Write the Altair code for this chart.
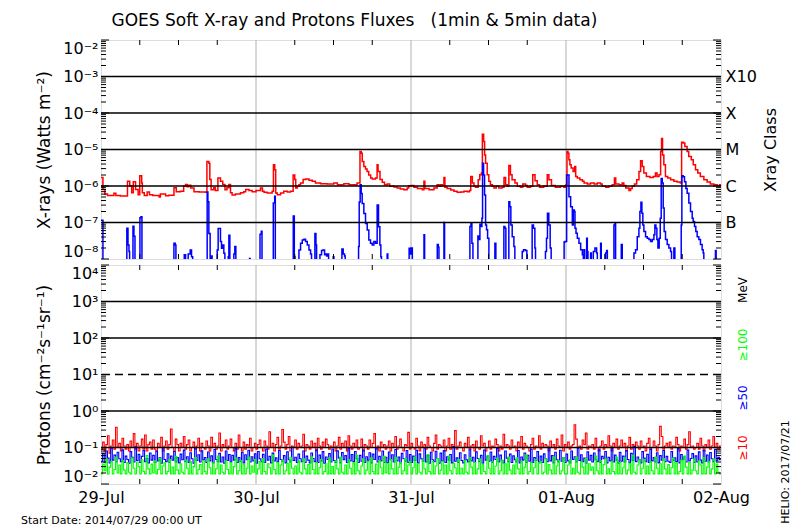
import altair as alt
import pandas as pd

# ---------------- text ----------------
NB = "\u00a0"
TITLE = "GOES Soft X-ray and Protons Fluxes" + NB * 3 + "(1min & 5min data)"
START_NOTE = "Start Date: 2014/07/29 00:00 UT"
HELIO_NOTE = "HELIO: 2017/07/21"
XRAY_TITLE = "X-rays (Watts m⁻²)"
PROTON_TITLE = "Protons (cm⁻²s⁻¹sr⁻¹)"

day_labels = ["29-Jul", "30-Jul", "31-Jul", "01-Aug", "02-Aug"]
day_hours = [0, 24, 48, 72, 96]
xray_class_labels = ["B", "C", "M", "X", "X10"]
xray_class_levels = [1e-7, 1e-6, 1e-5, 1e-4, 1e-3]
proton_grid_solid = [1e3, 1e2, 1e0, 1e-1]
proton_grid_dashed = [1e1]
energy_labels = ["MeV", "≥100", "≥50", "≥10"]
energy_colors = ["black", "#00ff00", "#0000ff", "#ff0000"]

# ---------------- GOES X-ray long channel (1-8 A), hours since 2014-07-29 00:00 ----------------
xray_long_hours = [
    0.0, 0.3, 0.6, 1.0, 2.0, 2.3, 3.0, 4.0, 4.1, 4.45, 4.75, 5.0, 5.35, 5.75, 6.0, 6.3, 6.4, 6.7,
    7.15, 7.5, 8.0, 9.0, 9.2, 10.0, 10.5, 11.3, 11.65, 12.3, 12.8, 13.1, 13.35, 13.6, 13.9, 14.4,
    15.2, 16.2, 16.4, 16.7, 16.85, 17.05, 17.45, 17.7, 18.1, 18.5, 18.85, 19.2, 19.5, 19.8, 20.05,
    20.3, 20.8, 21.6, 22.1, 22.4, 22.9, 23.4,
    24.0, 24.7, 25.0, 25.25, 25.75, 26.5, 26.7, 26.9, 27.05, 27.3, 27.8, 28.3, 28.85, 29.35, 29.75,
    30.0, 30.15, 30.4, 30.65, 30.9, 31.3, 31.7, 32.2, 32.7, 33.2, 34.0, 35.0, 36.05, 36.6, 37.1,
    37.6, 38.4, 39.15, 39.65, 40.1, 40.3, 40.45, 40.7, 40.95, 41.2, 41.45, 41.75, 42.0, 42.5, 42.75,
    42.9, 43.2, 43.55, 43.9, 44.3, 44.7, 45.35, 45.85, 46.35, 46.9, 47.4, 47.65,
    48.0, 48.45, 49.0, 49.75, 50.0, 50.15, 50.8, 51.55, 52.05, 52.35, 52.6, 52.85, 53.1, 53.25,
    53.6, 54.15, 54.65, 55.15, 55.7, 56.2, 56.7, 57.05, 57.25, 57.5, 57.75, 58.0, 58.4, 58.65,
    58.9, 59.05, 59.25, 59.4, 59.55, 59.8, 60.05, 60.3, 60.6, 60.85, 61.2, 61.6, 62.1, 62.4, 62.65,
    62.9, 63.15, 63.4, 63.65, 64.1, 64.45, 64.95, 65.3, 65.75, 66.0, 66.5, 66.85, 67.2, 67.55, 67.9,
    68.55, 69.1, 69.35, 69.75, 70.35, 71.15, 71.65, 71.9,
    72.0, 72.15, 72.3, 72.45, 72.6, 72.8, 73.1, 73.35, 73.5, 73.75, 74.15, 74.55, 74.8, 75.3, 75.8,
    76.35, 76.85, 77.35, 77.6, 78.15, 78.65, 79.15, 79.5, 79.7, 80.2, 80.7, 80.95, 81.25, 81.75,
    82.0, 82.25, 82.6, 82.95, 83.3, 83.55, 83.8, 84.05, 84.45, 85.0, 85.5, 85.85, 86.1, 86.4, 86.65,
    86.8, 86.95, 87.15, 87.4, 87.75, 88.2, 88.7, 89.2, 89.7, 89.9, 90.15, 90.4, 90.75, 91.0, 91.4,
    91.7, 92.05, 92.4, 92.8, 93.35, 93.85, 94.35, 94.9, 95.4, 95.8, 96.0,
]
xray_long_flux = [
    1.7e-6, 8.0e-7, 6.0e-7, 5.5e-7, 6.3e-7, 5.5e-7, 5.3e-7, 5.3e-7, 1.35e-6, 1.0e-6, 6.5e-7, 1.3e-6, 8.0e-7, 5.8e-7, 1.9e-6, 1.2e-6, 6.5e-7, 5.5e-7,
    6.9e-7, 5.8e-7, 5.5e-7, 5.0e-7, 6.0e-7, 5.4e-7, 5.6e-7, 9.0e-7, 7.0e-7, 7.2e-7, 1.0e-6, 1.1e-6, 9.5e-7, 1.05e-6, 8.8e-7, 7.0e-7,
    6.9e-7, 6.7e-7, 4.7e-6, 4.2e-6, 1.5e-6, 7.9e-7, 8.9e-7, 7.5e-7, 1.65e-6, 1.35e-6, 1.1e-6, 7.9e-7, 9.0e-7, 1.1e-6, 6.5e-7,
    5.7e-7, 6.0e-7, 6.5e-7, 7.0e-7, 8.0e-7, 7.5e-7, 7.0e-7,
    7.5e-7, 8.8e-7, 7.2e-7, 6.7e-7, 6.4e-7, 7.2e-7, 3.8e-6, 2.8e-6, 6.4e-7, 5.8e-7, 6.4e-7, 7.2e-7, 6.9e-7, 7.2e-7, 2.0e-6,
    1.5e-6, 8.8e-7, 9.8e-7, 1.09e-6, 1.2e-6, 1.5e-6, 1.55e-6, 1.43e-6, 1.34e-6, 1.2e-6, 1.16e-6, 1.13e-6, 1.2e-6, 1.09e-6, 1.09e-6,
    1.16e-6, 1.09e-6, 1.09e-6, 1.2e-6, 8.8e-6, 7.9e-6, 4.7e-6, 3.4e-6, 2.9e-6, 2.5e-6, 2.0e-6, 1.65e-6, 1.55e-6, 1.65e-6, 3.8e-6,
    2.5e-6, 1.5e-6, 1.26e-6, 1.09e-6, 1.13e-6, 9.8e-7, 9.4e-7, 8.8e-7, 8.3e-7, 7.9e-7, 8.8e-7, 1.02e-6,
    1.04e-6, 9.2e-7, 8.5e-7, 7.9e-7, 1.34e-6, 8.5e-7, 7.9e-7, 8.8e-7, 1.09e-6, 9.8e-7, 1.09e-6, 1.02e-6, 1.72e-6, 9.2e-7,
    8.5e-7, 7.8e-7, 7.15e-7, 6.7e-7, 6.85e-7, 7.15e-7, 7.0e-7, 7.5e-7, 1.83e-6, 1.2e-6, 9.8e-7, 9.2e-7, 1.49e-6, 2.04e-6,
    2.26e-6, 2.6e-5, 1.65e-5, 7.1e-6, 4.2e-6, 2.04e-6, 1.34e-6, 1.09e-6, 9.8e-7, 8.8e-7, 9.8e-7, 8.8e-7, 9.2e-7, 1.72e-6, 1.09e-6,
    9.8e-7, 3.66e-6, 2.04e-6, 1.49e-6, 1.2e-6, 9.8e-7, 9.2e-7, 1.13e-6, 1.04e-6, 9.2e-7, 9.8e-7, 2.04e-6, 1.4e-6, 1.09e-6, 9.2e-7,
    9.8e-7, 2.04e-6, 1.49e-6, 1.04e-6, 9.2e-7, 9.8e-7, 9.2e-7, 1.0e-6,
    1.09e-6, 8.8e-6, 7.9e-6, 5.2e-6, 3.8e-6, 3.1e-6, 2.5e-6, 3.4e-6, 1.83e-6, 1.65e-6, 1.49e-6, 1.34e-6, 1.2e-6, 1.13e-6, 1.2e-6,
    1.13e-6, 1.2e-6, 1.13e-6, 9.8e-7, 9.2e-7, 9.8e-7, 1.09e-6, 1.65e-6, 1.13e-6, 1.09e-6, 1.2e-6, 1.04e-6, 8.8e-7, 7.5e-7,
    8.5e-7, 9.8e-7, 1.13e-6, 1.49e-6, 2.5e-6, 4.9e-6, 3.4e-6, 2.26e-6, 1.83e-6, 1.72e-6, 1.83e-6, 2.26e-6, 1.83e-6, 2.04e-6, 8.8e-6,
    2.0e-5, 7.1e-6, 3.8e-6, 1.83e-6, 1.65e-6, 1.49e-6, 1.34e-6, 1.29e-6, 1.2e-6, 1.58e-5, 1.5e-5, 1.2e-5, 8.8e-6, 6.45e-6, 5.2e-6,
    3.8e-6, 2.8e-6, 2.26e-6, 1.83e-6, 1.49e-6, 1.29e-6, 1.13e-6, 1.09e-6, 1.04e-6, 1.09e-6, 1.09e-6,
]

# ---------------- GOES X-ray short channel (0.5-4 A); 1e-9 = below the plotted floor ----------------
xray_short_hours = [
    0.0, 0.3, 4.0, 4.18, 4.33, 4.43, 4.95, 5.1, 5.26, 6.03, 6.19, 6.34, 11.29, 11.5, 11.6, 12.89, 13.1,
    13.5, 13.81, 14.02, 14.2, 16.44, 16.55, 16.7, 16.9, 17.06, 17.2, 17.99, 18.14, 18.35, 18.5, 18.66,
    18.81, 19.02, 19.18, 19.7, 19.8, 19.95, 20.57, 20.72, 20.88, 23.0, 23.1,
    24.62, 24.82, 24.93, 26.68, 26.89, 26.99, 29.77, 29.93, 30.03, 30.65, 30.9, 31.16, 31.42, 31.68,
    31.94, 32.2, 32.45, 32.6, 33.12, 33.28, 33.38, 33.9, 34.15, 34.36, 34.62, 34.77, 34.93, 35.13,
    35.24, 35.96, 36.06, 37.3, 37.5, 37.71, 37.81, 39.88, 39.98, 40.13, 40.29, 40.44, 40.7, 40.96,
    41.22, 41.47, 41.73, 41.99, 42.25, 42.5, 42.76, 42.97, 43.18, 43.33, 43.43, 44.31, 44.41, 47.71, 47.92,
    48.0, 48.21, 50.01, 50.11, 52.07, 52.23, 52.33, 53.1, 53.2, 57.12, 57.28, 57.43, 57.59, 58.36,
    58.52, 58.67, 58.82, 58.98, 59.08, 59.24, 59.39, 59.55, 59.7, 59.86, 60.06, 60.99, 61.14, 62.38,
    62.54, 62.69, 63.15, 63.3, 63.46, 63.67, 63.93, 64.08, 65.22, 65.42, 65.73, 65.94, 66.76, 66.97,
    67.18, 67.28, 68.82, 68.98, 69.13, 69.34, 69.55, 69.7, 71.71, 71.85,
    72.1, 72.46, 72.72, 72.98, 73.13, 73.29, 73.39, 73.55, 73.75, 74.01, 74.27, 74.53, 74.68, 74.78,
    74.89, 75.2, 75.3, 75.4, 75.81, 75.92, 76.23, 76.48, 76.74, 76.85, 77.36, 77.46, 78.13, 78.29,
    78.4, 79.42, 79.58, 79.68, 80.56, 80.71, 82.52, 82.77, 83.03, 83.29, 83.44, 83.6, 83.75, 83.9,
    84.06, 84.32, 84.58, 84.84, 85.09, 85.35, 85.61, 85.76, 85.92, 86.07, 86.23, 86.43, 86.59, 86.74,
    86.9, 87.05, 87.2, 87.41, 87.67, 87.93, 88.19, 88.34, 88.7, 88.86, 89.84, 89.94, 90.14, 90.35,
    90.56, 90.76, 91.02, 91.28, 91.54, 91.69, 91.9, 92.1, 92.31, 92.57, 92.82, 93.08, 93.24, 93.34,
    95.14, 95.25, 96.0,
]
F = 1e-9
xray_short_flux = [
    1.16e-7, F, 7.0e-8, 2.4e-8, 1.6e-8, F, 7.9e-8, 4.2e-8, F, 1.34e-7, 1.43e-7, F, 2.7e-8, 2.4e-8, F, 1.3e-8, F,
    1.37e-8, 1.76e-8, 1.16e-8, F, 6.9e-7, 3.7e-7, 5.0e-8, F, 1.2e-8, F, 1.76e-8, 6.9e-8, 6.9e-8, 3.0e-8, 1.96e-8,
    2.4e-8, 1.43e-8, F, 1.16e-8, 4.5e-8, F, 1.37e-8, 2.2e-8, F, 1.04e-8, F,
    4.8e-8, 5.8e-8, F, 3.4e-7, 5.2e-7, F, 1.5e-7, 1.16e-8, F, 1.76e-8, 2.7e-8, 3.3e-8, 3.5e-8, 3.0e-8,
    2.4e-8, 1.76e-8, 1.37e-8, F, 5.0e-8, 2.4e-8, F, 1.3e-8, 1.7e-8, 1.76e-8, 1.3e-8, 1.37e-8, 1.2e-8, 1.37e-8,
    F, 1.16e-8, F, 1.87e-8, 1.37e-8, 1.2e-8, F, 2.2e-8, 3.66e-7, 1.09e-6, 6.2e-7, 3.3e-7, 1.76e-7, 9.4e-8,
    6.2e-8, 3.3e-8, 2.7e-8, 2.4e-8, 3.0e-8, 2.7e-8, 3.0e-7, 7.6e-8, 2.4e-8, 1.16e-8, F, 1.37e-8, F, 1.96e-8, 1.37e-8,
    2.0e-8, F, 4.6e-8, F, 2.5e-8, 2.1e-8, F, 1.0e-7, F, 7.8e-8, 9.6e-8, 2.7e-8, F, 4.3e-8,
    3.4e-8, 9.0e-8, 7.8e-8, 1.3e-7, 4.2e-6, 2.0e-6, 5.7e-7, 8.6e-8, 6.3e-8, 3.7e-8, F, 2.7e-8, F, 7.8e-8,
    7.0e-8, F, 3.7e-7, 2.7e-7, 8.6e-8, 4.1e-8, 2.2e-8, F, 1.6e-8, 1.8e-8, 1.7e-8, F, 8.6e-8, 7.0e-8,
    2.0e-8, F, 1.6e-8, 3.7e-8, 1.8e-7, 8.6e-8, 2.0e-8, F, 2.9e-8, 3.0e-8,
    2.0e-6, 5.1e-7, 2.7e-7, 8.6e-8, 2.2e-7, 2.0e-7, 7.0e-8, 5.1e-8, 3.7e-8, 2.7e-8, 1.8e-8, 1.3e-8, F, 1.8e-8,
    F, 3.7e-8, 1.6e-8, F, 1.45e-8, F, 1.6e-8, 2.0e-8, 1.45e-8, F, 2.7e-8, F, 1.45e-8, 1.7e-8,
    F, 8.6e-8, 9.6e-8, F, 2.5e-8, F, 1.45e-8, 1.8e-8, 4.1e-8, 7.0e-8, 2.0e-7, 3.6e-7, 1.8e-7, 8.6e-8,
    5.7e-8, 4.1e-8, 3.7e-8, 3.4e-8, 3.0e-8, 3.4e-8, 4.6e-8, 8.6e-8, 7.0e-8, 3.4e-8, 2.0e-8, 3.7e-8, 1.3e-7, 1.6e-6,
    1.2e-6, 2.5e-7, 5.7e-8, 3.4e-8, 2.5e-8, 2.0e-8, 1.6e-8, F, 2.0e-8, F, 8.6e-8, 1.9e-6, 1.8e-6, 1.3e-6,
    8.6e-7, 6.3e-7, 3.4e-7, 2.0e-7, 1.3e-7, 1.07e-7, 7.8e-8, 5.7e-8, 4.1e-8, 3.4e-8, 2.5e-8, 1.8e-8, 1.45e-8, F,
    1.7e-8, F, F,
]

# ---------------- GOES protons, 15-min samples over the 4 days ----------------
# >=10 MeV, in units of 0.01 pfu
proton_p10_centi = [
    9, 14, 8, 12, 21, 7, 11, 16, 9, 36, 10, 13, 8, 18, 11, 9,
    12, 8, 15, 10, 24, 9, 13, 8, 11, 17, 9, 22, 8, 12, 14, 9,
    16, 9, 8, 13, 10, 19, 8, 11, 15, 9, 12, 32, 10, 8, 17, 12,
    8, 13, 10, 20, 9, 12, 16, 8, 10, 14, 9, 11, 18, 8, 13, 10,
    9, 15, 11, 8, 19, 10, 13, 9, 11, 25, 8, 12, 10, 16, 9, 11,
    17, 10, 8, 13, 9, 22, 10, 8, 14, 9, 12, 11, 18, 8, 10, 13,
    9, 12, 16, 10, 8, 15, 11, 9, 27, 10, 13, 8, 12, 19, 9, 11,
    31, 14, 9, 12, 20, 8, 11, 10, 16, 9, 13, 10, 11, 23, 8, 12,
    11, 9, 15, 10, 13, 8, 18, 11, 9, 14, 10, 17, 12, 9, 11, 10,
    14, 8, 11, 19, 9, 13, 10, 15, 8, 21, 11, 9, 13, 10, 16, 9,
    10, 17, 8, 12, 11, 9, 16, 10, 13, 24, 9, 11, 8, 14, 10, 12,
    9, 11, 15, 8, 13, 10, 20, 9, 11, 17, 10, 8, 12, 11, 26, 9,
    13, 10, 9, 18, 11, 8, 14, 10, 12, 9, 19, 11, 10, 8, 13, 22,
    9, 12, 11, 10, 16, 8, 11, 18, 9, 12, 10, 29, 9, 11, 14, 10,
    8, 13, 10, 19, 9, 11, 12, 8, 15, 10, 9, 21, 11, 13, 8, 10,
    15, 9, 11, 10, 17, 12, 8, 11, 9, 23, 10, 12, 11, 9, 16, 10,
    11, 8, 14, 10, 20, 9, 13, 11, 10, 8, 12, 18, 9, 11, 10, 21,
    9, 13, 10, 12, 11, 8, 15, 10, 12, 9, 17, 11, 10, 22, 8, 12,
    10, 14, 9, 11, 12, 42, 17, 10, 11, 9, 16, 12, 25, 9, 11, 10,
    12, 9, 18, 10, 8, 11, 15, 9, 12, 10, 21, 11, 8, 13, 10, 17,
    9, 11, 16, 10, 13, 8, 11, 19, 9, 12, 10, 14, 11, 9, 15, 10,
    11, 8, 13, 18, 9, 10, 15, 11, 8, 12, 38, 20, 9, 11, 13, 10,
    14, 9, 11, 10, 19, 12, 8, 11, 10, 17, 9, 12, 27, 10, 11, 9,
    10, 13, 9, 18, 11, 8, 12, 10, 16, 9, 11, 20, 10, 13, 9, 11,
]
# >=50 MeV, in units of 0.001 pfu
proton_p50_milli = [
    42, 68, 39, 80, 51, 38, 95, 45, 62, 40, 74, 49, 41, 86, 39, 58,
    47, 37, 77, 54, 40, 104, 44, 65, 39, 57, 83, 41, 50, 38, 71, 45,
    61, 39, 79, 43, 52, 37, 92, 47, 41, 67, 39, 58, 45, 78, 40, 53,
    38, 66, 46, 85, 41, 56, 39, 72, 49, 37, 98, 44, 63, 40, 81, 46,
    53, 39, 75, 43, 59, 38, 88, 47, 41, 69, 40, 55, 37, 80, 44, 64,
    40, 61, 45, 93, 39, 53, 42, 74, 38, 63, 46, 84, 40, 56, 43, 67,
    37, 78, 49, 41, 65, 39, 90, 45, 57, 38, 70, 43, 52, 40, 83, 47,
    42, 60, 38, 76, 46, 40, 101, 44, 54, 39, 66, 49, 41, 80, 39, 58,
    45, 38, 71, 50, 41, 86, 39, 62, 43, 77, 37, 55, 47, 68, 40, 91,
    44, 39, 81, 52, 38, 73, 46, 60, 39, 95, 43, 64, 41, 78, 49, 39,
    61, 42, 85, 39, 56, 45, 72, 38, 66, 47, 99, 40, 57, 43, 80, 39,
    54, 39, 75, 46, 63, 40, 88, 43, 55, 38, 69, 49, 42, 83, 39, 64,
    39, 58, 44, 84, 38, 67, 49, 42, 92, 40, 60, 37, 74, 46, 41, 79,
    50, 37, 70, 43, 82, 39, 56, 45, 64, 38, 106, 42, 52, 39, 72, 44,
    38, 63, 46, 40, 87, 43, 54, 39, 76, 50, 41, 61, 37, 85, 45, 56,
    42, 75, 39, 57, 47, 94, 40, 62, 44, 38, 80, 51, 41, 66, 39, 59,
    46, 40, 83, 38, 55, 45, 71, 39, 61, 42, 90, 39, 53, 44, 77, 40,
    58, 39, 67, 49, 41, 100, 43, 60, 38, 74, 46, 40, 84, 42, 52, 39,
    66, 43, 38, 80, 47, 56, 40, 95, 44, 63, 41, 51, 37, 76, 45, 61,
    40, 71, 46, 41, 86, 39, 57, 49, 78, 38, 54, 43, 92, 40, 62, 45,
    37, 74, 42, 58, 40, 82, 47, 39, 69, 44, 108, 41, 55, 46, 38, 77,
    51, 41, 65, 39, 89, 43, 53, 40, 72, 38, 60, 45, 83, 41, 57, 42,
    39, 78, 44, 52, 41, 93, 38, 64, 46, 56, 40, 85, 43, 50, 68, 39,
    59, 40, 76, 45, 38, 84, 42, 62, 40, 73, 49, 41, 89, 43, 54, 46,
]
# >=100 MeV, in units of 0.001 pfu
proton_p100_milli = [
    19, 35, 23, 48, 19, 29, 41, 19, 25, 55, 20, 33, 19, 44, 24, 19,
    38, 21, 19, 51, 27, 19, 40, 30, 19, 46, 22, 19, 60, 26, 19, 35,
    20, 43, 19, 25, 50, 19, 31, 38, 19, 22, 47, 19, 29, 19, 57, 24,
    19, 36, 21, 19, 45, 27, 19, 41, 19, 30, 53, 19, 25, 34, 19, 44,
    22, 19, 49, 28, 19, 38, 19, 26, 58, 19, 33, 21, 19, 43, 25, 19,
    39, 19, 30, 52, 19, 23, 44, 19, 35, 19, 27, 55, 19, 31, 21, 47,
    19, 26, 41, 19, 50, 22, 19, 36, 28, 19, 62, 25, 19, 39, 19, 33,
    45, 19, 23, 37, 19, 54, 27, 19, 31, 19, 43, 21, 19, 49, 26, 19,
    34, 19, 56, 25, 19, 39, 19, 28, 47, 19, 22, 36, 19, 52, 19, 30,
    19, 43, 26, 19, 55, 21, 19, 33, 19, 46, 27, 19, 38, 19, 61, 23,
    19, 31, 49, 19, 24, 41, 19, 52, 22, 19, 35, 19, 44, 28, 19, 57,
    20, 37, 19, 47, 26, 19, 54, 19, 29, 39, 19, 23, 50, 19, 33, 42,
    19, 28, 55, 19, 36, 21, 19, 46, 26, 19, 64, 22, 19, 41, 19, 31,
    50, 19, 24, 42, 19, 33, 19, 58, 23, 19, 37, 28, 19, 47, 19, 27,
    19, 44, 21, 19, 53, 29, 19, 39, 19, 26, 49, 19, 35, 22, 19, 60,
    27, 19, 41, 19, 31, 51, 19, 23, 45, 19, 36, 19, 55, 24, 19, 33,
    19, 52, 26, 19, 42, 19, 29, 63, 19, 22, 39, 19, 28, 47, 19, 37,
    41, 19, 21, 49, 19, 34, 24, 19, 56, 19, 31, 44, 19, 23, 52, 19,
    19, 33, 46, 19, 27, 19, 55, 21, 19, 41, 29, 19, 50, 19, 36, 24,
    29, 19, 58, 23, 19, 44, 19, 34, 49, 19, 26, 19, 42, 22, 19, 54,
    19, 39, 19, 28, 52, 19, 24, 37, 19, 61, 21, 19, 33, 46, 19, 27,
    47, 19, 31, 19, 41, 23, 19, 55, 27, 19, 36, 19, 50, 26, 19, 34,
    19, 28, 51, 19, 38, 19, 22, 45, 19, 58, 29, 19, 39, 19, 24, 48,
    23, 19, 43, 33, 19, 53, 19, 29, 41, 19, 26, 49, 19, 35, 21, 19,
]

# ---------------- helpers ----------------
W, H = 620, 219
FONT = "DejaVu Sans"
xsc = alt.Scale(domain=[day_hours[0], day_hours[-1]], nice=False, zero=False)
ysc_x = alt.Scale(type="log", domain=[1e-8, 1e-2], nice=False)
ysc_p = alt.Scale(type="log", domain=[1e-2, 1e4], nice=False)

SUP = "['⁰','¹','²','³','⁴','⁵','⁶','⁷','⁸','⁹']"
EXP = "round(log(datum.value)/LN10)"
DEC_EXPR = f"'10' + ({EXP} < 0 ? '⁻' : '') + {SUP}[abs({EXP})]"
CLASS_EXPR = "[" + ",".join(f"'{c}'" for c in xray_class_labels) + f"][{EXP} + 7]"
DAY_EXPR = "[" + ",".join(f"'{d}'" for d in day_labels) + "][round(datum.value/24)]"

six_hour = [h for h in range(6, 96, 6) if h % 24 != 0]


def series_df(hours, vals):
    n = min(len(hours), len(vals))
    return pd.DataFrame({"hour": hours[:n], "flux": vals[:n]})


def proton_df(vals, unit):
    step = 96.0 / len(vals)
    hours = [i * step for i in range(len(vals))] + [96.0]
    flux = [v * unit for v in vals] + [vals[-1] * unit]
    return pd.DataFrame({"hour": hours, "flux": flux})


def decade_axis(values, title):
    return alt.Axis(orient="left", values=values, labelExpr=DEC_EXPR, ticks=False, domain=False,
                    grid=False, labelFlush=True, labelOverlap=False, labelFontSize=16, labelFont=FONT,
                    labelColor="black", labelPadding=3, title=title, titleFont=FONT, titleFontSize=17,
                    titleFontWeight="normal", titleColor="black", titlePadding=9)


def line(df, color, sw, yscale, yaxis=None, xaxis=None):
    return alt.Chart(df).mark_line(color=color, strokeWidth=sw, interpolate="step-after", clip=True).encode(
        x=alt.X("hour:Q", scale=xsc, axis=xaxis),
        y=alt.Y("flux:Q", scale=yscale, axis=yaxis),
    )


def yticks(vals, yscale, length, side):
    x0, x1 = (0, length) if side == "left" else (W - length, W)
    return alt.Chart(pd.DataFrame({"v": vals})).mark_rule(color="black", strokeWidth=1).encode(
        y=alt.Y("v:Q", scale=yscale, axis=None), x=alt.value(x0), x2=alt.value(x1))


def xticks():
    d = pd.DataFrame({"h": six_hour})
    base = alt.Chart(d).mark_rule(color="black", strokeWidth=1)
    return [base.encode(x=alt.X("h:Q", scale=xsc, axis=None), y=alt.value(H - 5), y2=alt.value(H)),
            base.encode(x=alt.X("h:Q", scale=xsc, axis=None), y=alt.value(0), y2=alt.value(5))]


def day_lines():
    return alt.Chart(pd.DataFrame({"h": day_hours[1:-1]})).mark_rule(color="#b0b0b0", strokeWidth=1).encode(
        x=alt.X("h:Q", scale=xsc, axis=None))


def log_ticks(e0, e1):
    major = [10.0 ** e for e in range(e0, e1 + 1)]
    minor = [m * 10.0 ** e for e in range(e0, e1) for m in range(2, 10)]
    return major, minor


# ---------------- top panel: X-rays ----------------
xmaj, xmin = log_ticks(-8, -2)
xr_long = line(series_df(xray_long_hours, xray_long_flux), "#ff0000", 1.5, ysc_x,
               yaxis=decade_axis([10.0 ** e for e in range(-8, -1)], XRAY_TITLE))
xr_short = line(series_df(xray_short_hours, xray_short_flux), "#0000ff", 1.5, ysc_x)
class_axis = alt.Axis(orient="right", values=xray_class_levels, labelExpr=CLASS_EXPR, ticks=False,
                      domain=False, grid=False, labelFontSize=16, labelFont=FONT, labelColor="black",
                      labelPadding=4, labelOverlap=False, title="Xray Class", titleAngle=270,
                      titleFont=FONT, titleFontSize=16, titleFontWeight="normal", titleColor="black",
                      titlePadding=22)
xr_grid = alt.Chart(pd.DataFrame({"level": xray_class_levels})).mark_rule(color="black", strokeWidth=1.3).encode(
    y=alt.Y("level:Q", scale=ysc_x, axis=class_axis))

top = alt.layer(
    day_lines(), xr_long, xr_short, xr_grid,
    yticks(xmaj, ysc_x, 8, "left"), yticks(xmin, ysc_x, 5, "left"),
    yticks(xmaj, ysc_x, 8, "right"), yticks(xmin, ysc_x, 5, "right"),
    *xticks(),
).resolve_axis(y="independent").properties(width=W, height=H)

# ---------------- bottom panel: protons ----------------
pmaj, pmin = log_ticks(-2, 4)
day_axis = alt.Axis(orient="bottom", values=day_hours, labelExpr=DAY_EXPR, ticks=False, domain=False,
                    grid=False, labelFontSize=16, labelFont=FONT, labelColor="black", labelPadding=5,
                    labelFlush=False, labelOverlap=False, labelBound=False, title=None)
p10 = line(proton_df(proton_p10_centi, 0.01), "#ff0000", 1.1, ysc_p,
           yaxis=decade_axis([10.0 ** e for e in range(-2, 5)], PROTON_TITLE), xaxis=day_axis)
p50 = line(proton_df(proton_p50_milli, 0.001), "#0000ff", 1.1, ysc_p)
p100 = line(proton_df(proton_p100_milli, 0.001), "#00ff00", 1.1, ysc_p)
p_grid = alt.Chart(pd.DataFrame({"level": proton_grid_solid})).mark_rule(color="black", strokeWidth=1.3).encode(
    y=alt.Y("level:Q", scale=ysc_p, axis=None))
p_grid_d = alt.Chart(pd.DataFrame({"level": proton_grid_dashed})).mark_rule(
    color="black", strokeWidth=1.3, strokeDash=[8, 5]).encode(y=alt.Y("level:Q", scale=ysc_p, axis=None))

energy_y = [25, 80, 133, 183]
energy_texts = [
    alt.Chart(pd.DataFrame({"t": [t]})).mark_text(
        angle=270, align="center", baseline="middle", fontSize=12, font=FONT, color=c
    ).encode(text="t:N", x=alt.value(W + 22), y=alt.value(yy))
    for t, c, yy in zip(energy_labels, energy_colors, energy_y)
]
start_txt = alt.Chart(pd.DataFrame({"t": [START_NOTE]})).mark_text(
    align="left", baseline="middle", fontSize=11, font=FONT, color="black"
).encode(text="t:N", x=alt.value(-80), y=alt.value(H + 37))
helio_txt = alt.Chart(pd.DataFrame({"t": [HELIO_NOTE]})).mark_text(
    angle=270, align="center", baseline="middle", fontSize=11, font=FONT, color="black"
).encode(text="t:N", x=alt.value(W + 65), y=alt.value(H - 12))

bottom = alt.layer(
    day_lines(), p10, p50, p100, p_grid, p_grid_d,
    yticks(pmaj, ysc_p, 8, "left"), yticks(pmin, ysc_p, 5, "left"),
    yticks(pmaj, ysc_p, 8, "right"), yticks(pmin, ysc_p, 5, "right"),
    *xticks(), *energy_texts, start_txt, helio_txt,
).resolve_axis(x="independent", y="independent").properties(width=W, height=H)

chart = alt.vconcat(top, bottom, spacing=4).properties(
    title=alt.TitleParams(TITLE, anchor="start", dx=91, fontSize=17, font=FONT, fontWeight="normal",
                          color="black", offset=9),
    padding={"left": 12, "top": 4, "right": 0, "bottom": 0},
).configure_view(stroke="black", strokeWidth=1).configure(font=FONT, background="white")

chart.save("out.html", embed_options={"renderer": "svg", "actions": False})
